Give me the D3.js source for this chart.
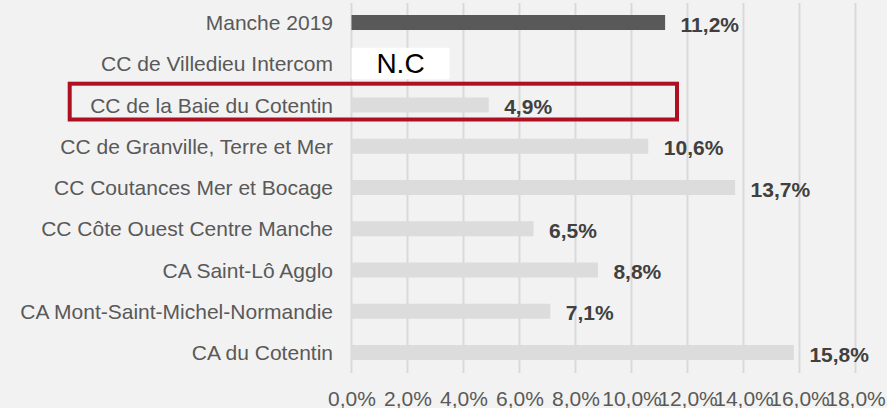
<!DOCTYPE html>
<html>
<head>
<meta charset="utf-8">
<script src="https://cdn.jsdelivr.net/npm/d3@7"></script>
<style>
  html, body { margin: 0; padding: 0; background: #F2F2F2; }
  svg { display: block; }
  text { font-family: "Liberation Sans", Arial, sans-serif; }
</style>
</head>
<body>
<svg id="chart" width="887" height="408"></svg>
<script>
const categories = [
  "Manche 2019",
  "CC de Villedieu Intercom",
  "CC de la Baie du Cotentin",
  "CC de Granville, Terre et Mer",
  "CC Coutances Mer et Bocage",
  "CC Côte Ouest Centre Manche",
  "CA Saint-Lô Agglo",
  "CA Mont-Saint-Michel-Normandie",
  "CA du Cotentin"
];
const values = [0.112, null, 0.049, 0.106, 0.137, 0.065, 0.088, 0.071, 0.158];
const valueLabels = ["11,2%", "N.C", "4,9%", "10,6%", "13,7%", "6,5%", "8,8%", "7,1%", "15,8%"];
const tickValues = [0, 0.02, 0.04, 0.06, 0.08, 0.10, 0.12, 0.14, 0.16, 0.18];
const highlightCategory = "CC de la Baie du Cotentin";
const referenceCategory = "Manche 2019";

const svg = d3.select("#chart");
const W = 887, H = 408;

svg.append("rect").attr("width", W).attr("height", H).attr("fill", "#F2F2F2");

const x = d3.scaleLinear().domain([0, 0.18]).range([351.5, 855.5]);
const y = d3.scaleBand().domain(categories).range([1.875, 373.125])
  .paddingInner(0.636).paddingOuter(0.318);

const fmt = v => d3.format(".1f")(v * 100).replace(".", ",") + "%";

// gridlines
svg.append("g").selectAll("line").data(tickValues).join("line")
  .attr("x1", d => x(d)).attr("x2", d => x(d))
  .attr("y1", 3).attr("y2", 373)
  .attr("stroke", "#D9D9D9").attr("stroke-width", 2);

// x axis labels
const axis = d3.axisBottom(x).tickValues(tickValues).tickFormat(fmt).tickSize(0).tickPadding(0);
const ax = svg.append("g").attr("transform", "translate(0,406)").call(axis);
ax.select(".domain").remove();
ax.selectAll("text")
  .attr("dy", null).attr("y", 0)
  .attr("font-size", 21).attr("fill", "#595959")
  .style("font-family", '"Liberation Sans", Arial, sans-serif');

// category labels
svg.append("g").selectAll("text").data(categories).join("text")
  .attr("x", 333)
  .attr("y", d => y(d) + y.bandwidth() / 2)
  .attr("dominant-baseline", "central")
  .attr("text-anchor", "end")
  .attr("font-size", 21)
  .attr("fill", "#595959")
  .text(d => d);

const rows = categories.map((c, i) => ({ c, v: values[i], label: valueLabels[i] }));

// bars
svg.append("g").selectAll("rect").data(rows.filter(r => r.v != null)).join("rect")
  .attr("x", x(0))
  .attr("y", d => y(d.c))
  .attr("width", d => x(d.v) - x(0))
  .attr("height", y.bandwidth())
  .attr("fill", d => d.c === referenceCategory ? "#595959" : "#DCDCDC");

// value labels
svg.append("g").selectAll("text").data(rows.filter(r => r.v != null)).join("text")
  .attr("x", d => x(d.v) + 15.5)
  .attr("y", d => y(d.c) + y.bandwidth() / 2 + 1.5)
  .attr("dominant-baseline", "central")
  .attr("font-size", 21)
  .attr("font-weight", "bold")
  .attr("fill", "#404040")
  .text(d => d.label);

// N.C box for missing values
const nc = svg.append("g").selectAll("g").data(rows.filter(r => r.v == null)).join("g");
nc.append("rect")
  .attr("x", x(0))
  .attr("y", d => y(d.c) + y.bandwidth() / 2 - 16)
  .attr("width", 98)
  .attr("height", 31.5)
  .attr("fill", "#FFFFFF");
nc.append("text")
  .attr("x", x(0) + 49)
  .attr("y", d => y(d.c) + y.bandwidth() / 2)
  .attr("dominant-baseline", "central")
  .attr("text-anchor", "middle")
  .attr("font-size", 28)
  .attr("fill", "#000000")
  .text(d => d.label);

// highlight rectangle
const hy = y(highlightCategory) + y.bandwidth() / 2;
svg.append("rect")
  .attr("x", 69.7)
  .attr("y", hy - 21.3)
  .attr("width", 607.3)
  .attr("height", 35.8)
  .attr("fill", "none")
  .attr("stroke", "#AE1022")
  .attr("stroke-width", 4);
</script>
</body>
</html>
